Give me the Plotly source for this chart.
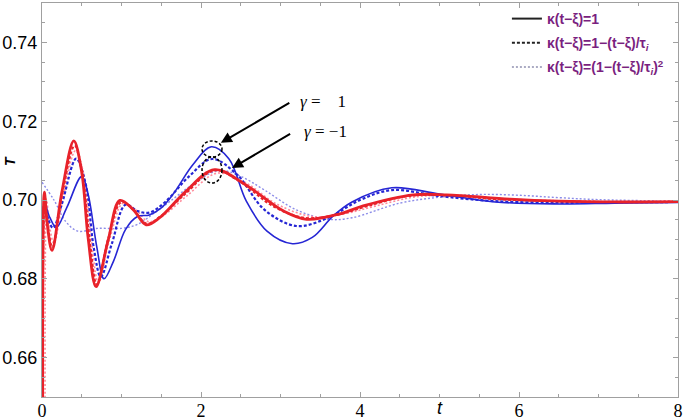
import plotly.graph_objects as go

# gamma = 1 (blue)
t_b1 = [0.015, 0.03, 0.10, 0.18, 0.31, 0.50, 0.58, 0.69, 0.78, 0.90, 1.05, 1.20, 1.35, 1.50, 1.65, 1.90,
        2.13, 2.35, 2.57, 2.83, 3.15, 3.40, 3.66, 3.90, 4.40, 5.0, 5.7, 6.5, 7.2, 8.0]
y_b1 = [0.60, 0.6990, 0.6955, 0.6930, 0.6980, 0.7060, 0.7015, 0.6880, 0.6800, 0.6845, 0.6925, 0.6958,
        0.6962, 0.6980, 0.7015, 0.7090, 0.7135, 0.7105, 0.6997, 0.6921, 0.6889, 0.6905, 0.6959, 0.6995,
        0.7031, 0.7015, 0.6995, 0.6990, 0.6992, 0.6994]

t_b2 = [0.02, 0.035, 0.08, 0.14, 0.25, 0.43, 0.55, 0.65, 0.74, 0.88, 1.05, 1.20, 1.35, 1.55, 1.85, 2.14,
        2.45, 2.80, 3.20, 3.60, 4.00, 4.40, 5.00, 5.70, 6.5, 7.2, 8.0]
y_b2 = [0.60, 0.7000, 0.6950, 0.6929, 0.6990, 0.7105, 0.7040, 0.6880, 0.6805, 0.6890, 0.6988, 0.6972,
        0.6968, 0.6995, 0.7060, 0.7104, 0.7065, 0.6975, 0.6934, 0.6955, 0.7000, 0.7025, 0.7010, 0.6997,
        0.6993, 0.6994, 0.6995]

t_b3 = [0, 0.15, 0.30, 0.45, 0.70, 1.00, 1.20, 1.40, 1.60, 1.90, 2.22, 2.50, 2.80, 3.20, 3.60, 3.90,
        4.50, 5.00, 5.50, 6.0, 6.5, 7.0, 8.0]
y_b3 = [0.7045, 0.7000, 0.6945, 0.6921, 0.6928, 0.6928, 0.6938, 0.6965, 0.6995, 0.7040, 0.7075, 0.7060,
        0.7025, 0.6975, 0.6951, 0.6955, 0.6992, 0.7007, 0.7014, 0.7012, 0.7006, 0.7001, 0.6997]

# gamma = -1 (red)
t_r1 = [0.015, 0.03, 0.065, 0.126, 0.25, 0.40, 0.50, 0.58, 0.68, 0.83, 0.98, 1.15, 1.31, 1.48, 1.80, 2.17,
        2.55, 3.04, 3.33, 3.75, 4.04, 4.67, 5.09, 5.89, 6.5, 7.2, 8.0]
y_r1 = [0.60, 0.7020, 0.6940, 0.6872, 0.7020, 0.7150, 0.7070, 0.6904, 0.6780, 0.6896, 0.6999, 0.6975,
        0.6937, 0.6955, 0.7020, 0.7077, 0.7040, 0.6972, 0.6951, 0.6965, 0.6985, 0.7013, 0.7013, 0.7002,
        0.6997, 0.6995, 0.6996]

t_r2 = [0.02, 0.035, 0.07, 0.13, 0.25, 0.41, 0.50, 0.60, 0.69, 0.83, 1.00, 1.15, 1.32, 1.50, 1.80, 2.17,
        2.50, 2.90, 3.30, 3.70, 4.10, 4.60, 5.10, 5.70, 6.5, 7.2, 8.0]
y_r2 = [0.60, 0.7010, 0.6940, 0.6880, 0.7010, 0.7138, 0.7080, 0.6900, 0.6785, 0.6900, 0.6995, 0.6975,
        0.6940, 0.6960, 0.7015, 0.7075, 0.7045, 0.6985, 0.6955, 0.6962, 0.6985, 0.7010, 0.7012, 0.7002,
        0.6997, 0.6995, 0.6996]

t_r3 = [0.045, 0.06, 0.09, 0.15, 0.27, 0.42, 0.52, 0.62, 0.71, 0.85, 1.02, 1.18, 1.34, 1.52, 1.82, 2.20,
        2.55, 2.95, 3.40, 3.80, 4.20, 4.70, 5.20, 5.80, 6.5, 7.2, 8.0]
y_r3 = [0.60, 0.7000, 0.6940, 0.6890, 0.7010, 0.7125, 0.7070, 0.6900, 0.6790, 0.6900, 0.6992, 0.6975,
        0.6945, 0.6960, 0.7010, 0.7068, 0.7045, 0.6990, 0.6958, 0.6965, 0.6985, 0.7008, 0.7012, 0.7003,
        0.6998, 0.6996, 0.6996]

x_ticks = [0, 2, 4, 6, 8]
y_ticks = [0.66, 0.68, 0.70, 0.72, 0.74]
legend_names = ["<b>κ(t−ξ)=1</b>",
                "<b>κ(t−ξ)=1−(t−ξ)/τ<sub><i>i</i></sub></b>",
                "<b>κ(t−ξ)=(1−(t−ξ)/τ<sub><i>i</i></sub>)<sup>2</sup></b>"]

BLUE = "#2626d4"
RED = "#e8222a"
LBLUE = "#8c8ce8"
PINK = "#ff8c9c"

fig = go.Figure()

def add(t, y, color, width, dash):
    fig.add_trace(go.Scatter(x=t, y=y, mode="lines", showlegend=False,
                             line=dict(color=color, width=width, dash=dash, shape="spline", smoothing=1.0)))

add(t_b3, y_b3, LBLUE, 1.4, "2px,2px")
add(t_r3, y_r3, PINK, 1.6, "2px,2px")
add(t_b2, y_b2, BLUE, 2.2, "3px,2px")
add(t_r2, y_r2, RED, 2.0, "3px,2px")
add(t_b1, y_b1, BLUE, 1.6, "solid")
add(t_r1, y_r1, RED, 2.8, "solid")

# legend samples
for name, dash, col, w, g in zip(legend_names, ["solid", "3px,2px", "2px,2px"],
                                 ["#222222", "#222222", "#9090b0"], [2, 2, 1.3], ["a", "b", "c"]):
    fig.add_trace(go.Scatter(x=[None], y=[None], mode="lines", name=name, legendgroup=g,
                             line=dict(color=col, width=w, dash=dash)))

# dashed circles
fig.add_shape(type="circle", xref="x", yref="y", x0=2.013, x1=2.264, y0=0.7109, y1=0.7150,
              line=dict(color="black", width=1.5, dash="3px,2px"))
fig.add_shape(type="circle", xref="x", yref="y", x0=2.013, x1=2.264, y0=0.7043, y1=0.7109,
              line=dict(color="black", width=1.5, dash="3px,2px"))

# arrows
fig.add_annotation(x=2.25, y=0.7145, ax=3.13, ay=0.7249, xref="x", yref="y", axref="x", ayref="y",
                   text="", showarrow=True, arrowhead=2, arrowsize=1.1, arrowwidth=2, arrowcolor="black")
fig.add_annotation(x=2.39, y=0.7081, ax=3.14, ay=0.7170, xref="x", yref="y", axref="x", ayref="y",
                   text="", showarrow=True, arrowhead=2, arrowsize=1.1, arrowwidth=2, arrowcolor="black")
fig.add_annotation(x=3.53, y=0.7249, xref="x", yref="y", text="<i>γ</i> =    1", showarrow=False,
                   font=dict(family="Liberation Serif", size=17, color="black"))
fig.add_annotation(x=3.57, y=0.7173, xref="x", yref="y", text="<i>γ</i> = −1", showarrow=False,
                   font=dict(family="Liberation Serif", size=17, color="black"))

# axis titles
fig.add_annotation(x=5.0, y=-0.028, xref="x", yref="paper", text="<i>t</i>", showarrow=False,
                   xanchor="center", yanchor="middle",
                   font=dict(family="Liberation Sans", size=18, color="black"))
fig.add_annotation(x=-0.0503, y=0.7099, xref="paper", yref="y", text="<i><b>T</b></i>", showarrow=False,
                   xanchor="center", yanchor="middle",
                   textangle=-90, font=dict(family="Liberation Sans", size=14, color="black"))

axis_common = dict(showgrid=False, zeroline=False, showline=True, linecolor="#a0a0a0", linewidth=1,
                   mirror="allticks", ticks="inside", tickcolor="#a0a0a0", ticklen=5, automargin=False)

fig.update_xaxes(range=[0, 8], tickvals=x_ticks, ticktext=[str(v) for v in x_ticks],
                 tickfont=dict(family="Liberation Sans Narrow", size=18, color="black"),
                 ticklabeloverflow="allow", ticklabelstandoff=-3,
                 minor=dict(dtick=0.5, ticks="inside", ticklen=3, tickcolor="#a0a0a0"),
                 **axis_common)
fig.update_yaxes(range=[0.65, 0.75], tickvals=y_ticks, ticktext=[f"{v:.2f}" for v in y_ticks],
                 tickfont=dict(family="Liberation Sans", size=18, color="black"),
                 minor=dict(dtick=0.005, ticks="inside", ticklen=3, tickcolor="#a0a0a0"),
                 **axis_common)

fig.update_layout(
    width=685, height=420,
    margin=dict(l=42, r=7, t=3, b=23),
    plot_bgcolor="white", paper_bgcolor="white",
    legend=dict(x=0.731, y=1.0, xanchor="left", yanchor="top", bgcolor="rgba(0,0,0,0)",
                font=dict(family="Liberation Sans", size=14, color="#7a1f80"),
                tracegroupgap=3, itemwidth=30),
)

fig.write_html("out.html", config={"displayModeBar": False},
               post_script="document.body.style.margin='0px';")
